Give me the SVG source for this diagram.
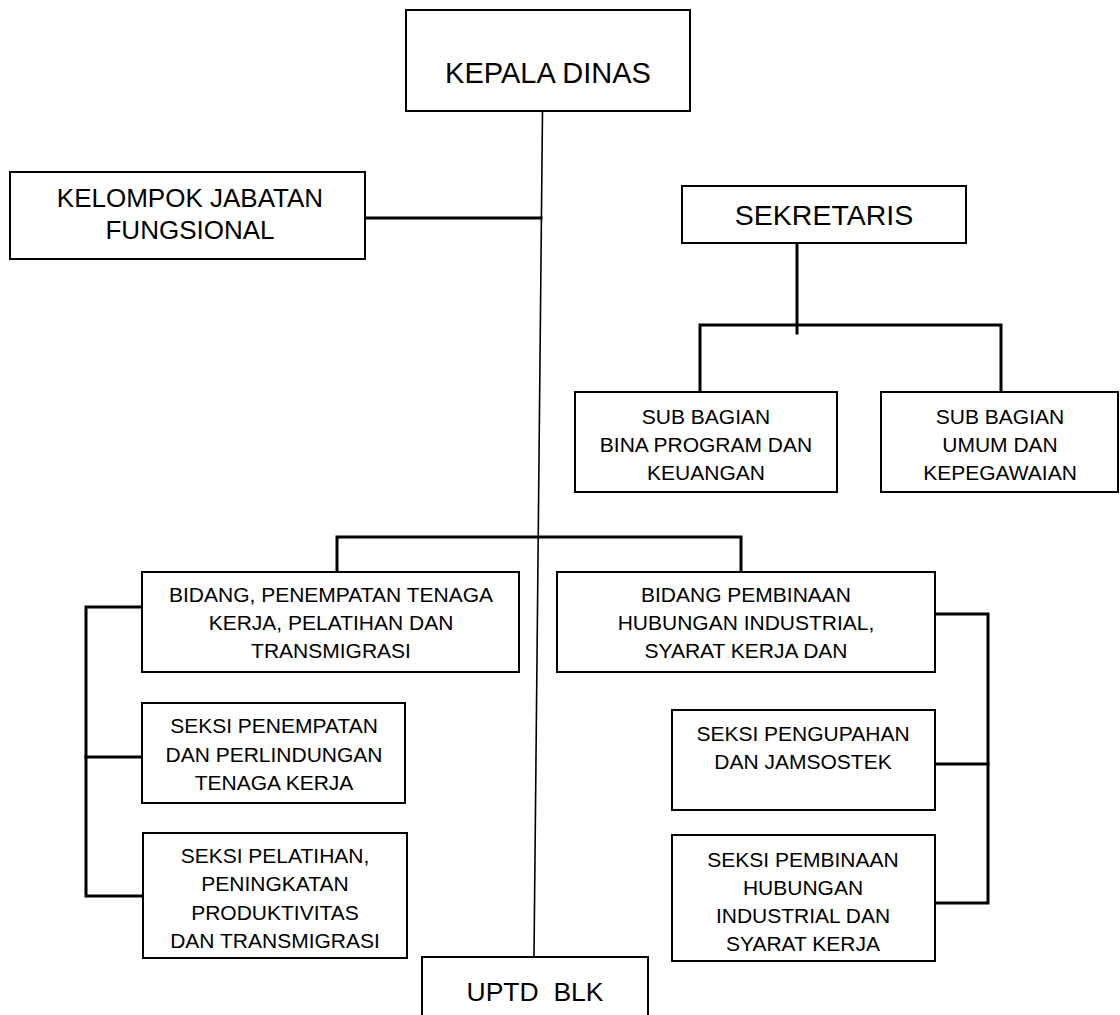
<svg xmlns="http://www.w3.org/2000/svg" width="1120" height="1015" viewBox="0 0 1120 1015">
<style>
.box{fill:#fff;stroke:#000;stroke-width:2}
.t{font-family:"Liberation Sans",Arial,sans-serif;fill:#000;text-anchor:middle}
.s{font-size:21px}
.c{stroke:#000;stroke-width:3;fill:none;stroke-linecap:square}
.m{stroke:#000;stroke-width:1.6;fill:none}
</style>
<rect width="1120" height="1015" fill="#fff"/>
<g id="connectors">
<line class="m" x1="542.5" y1="111" x2="534" y2="957"/>
<line class="c" x1="365" y1="218" x2="541" y2="218"/>
<line class="c" x1="797" y1="245" x2="797" y2="333"/>
<polyline class="c" points="700,392 700,325 1001,325 1001,392"/>
<polyline class="c" points="337,572 337,537 741,537 741,572"/>
<polyline class="c" points="142,607 86,607 86,896 143,896"/>
<line class="c" x1="86" y1="757" x2="142" y2="757"/>
<polyline class="c" points="935,614 988,614 988,903 935,903"/>
<line class="c" x1="935" y1="764" x2="988" y2="764"/>
</g>
<g id="kepala">
<rect class="box" x="406" y="10" width="284" height="101"/>
<text class="t" x="548" y="83" font-size="29">KEPALA DINAS</text>
</g>
<g id="kelompok">
<rect class="box" x="10" y="172" width="355" height="87"/>
<text class="t" x="190" y="207" font-size="26">KELOMPOK JABATAN</text>
<text class="t" x="190" y="239" font-size="26">FUNGSIONAL</text>
</g>
<g id="sekretaris">
<rect class="box" x="682" y="186" width="284" height="57"/>
<text class="t" x="824" y="225" font-size="28.5">SEKRETARIS</text>
</g>
<g id="subbag-program">
<rect class="box" x="575" y="392" width="262" height="100"/>
<text class="t s" x="706" y="424">SUB BAGIAN</text>
<text class="t s" x="706" y="452">BINA PROGRAM DAN</text>
<text class="t s" x="706" y="480">KEUANGAN</text>
</g>
<g id="subbag-umum">
<rect class="box" x="881" y="392" width="237" height="100"/>
<text class="t s" x="1000" y="424">SUB BAGIAN</text>
<text class="t s" x="1000" y="452">UMUM DAN</text>
<text class="t s" x="1000" y="480">KEPEGAWAIAN</text>
</g>
<g id="bidang-penempatan">
<rect class="box" x="142" y="572" width="377" height="100"/>
<text class="t s" x="331" y="602">BIDANG, PENEMPATAN TENAGA</text>
<text class="t s" x="331" y="630">KERJA, PELATIHAN DAN</text>
<text class="t s" x="331" y="658">TRANSMIGRASI</text>
</g>
<g id="bidang-pembinaan">
<rect class="box" x="557" y="572" width="378" height="100"/>
<text class="t s" x="746" y="602">BIDANG PEMBINAAN</text>
<text class="t s" x="746" y="630">HUBUNGAN INDUSTRIAL,</text>
<text class="t s" x="746" y="658">SYARAT KERJA DAN</text>
</g>
<g id="seksi-penempatan">
<rect class="box" x="142" y="703" width="263" height="100"/>
<text class="t s" x="274" y="733">SEKSI PENEMPATAN</text>
<text class="t s" x="274" y="762">DAN PERLINDUNGAN</text>
<text class="t s" x="274" y="790">TENAGA KERJA</text>
</g>
<g id="seksi-pelatihan">
<rect class="box" x="143" y="833" width="264" height="125"/>
<text class="t s" x="275" y="863">SEKSI PELATIHAN,</text>
<text class="t s" x="275" y="891">PENINGKATAN</text>
<text class="t s" x="275" y="920">PRODUKTIVITAS</text>
<text class="t s" x="275" y="948">DAN TRANSMIGRASI</text>
</g>
<g id="seksi-pengupahan">
<rect class="box" x="672" y="710" width="263" height="100"/>
<text class="t s" x="803" y="741">SEKSI PENGUPAHAN</text>
<text class="t s" x="803" y="769">DAN JAMSOSTEK</text>
</g>
<g id="seksi-pembinaan">
<rect class="box" x="672" y="835" width="263" height="126"/>
<text class="t s" x="803" y="867">SEKSI PEMBINAAN</text>
<text class="t s" x="803" y="895">HUBUNGAN</text>
<text class="t s" x="803" y="923">INDUSTRIAL DAN</text>
<text class="t s" x="803" y="951">SYARAT KERJA</text>
</g>
<g id="uptd">
<rect class="box" x="422" y="957" width="226" height="80"/>
<text class="t" x="535" y="1001" font-size="26.5" style="white-space:pre">UPTD  BLK</text>
</g>
</svg>
